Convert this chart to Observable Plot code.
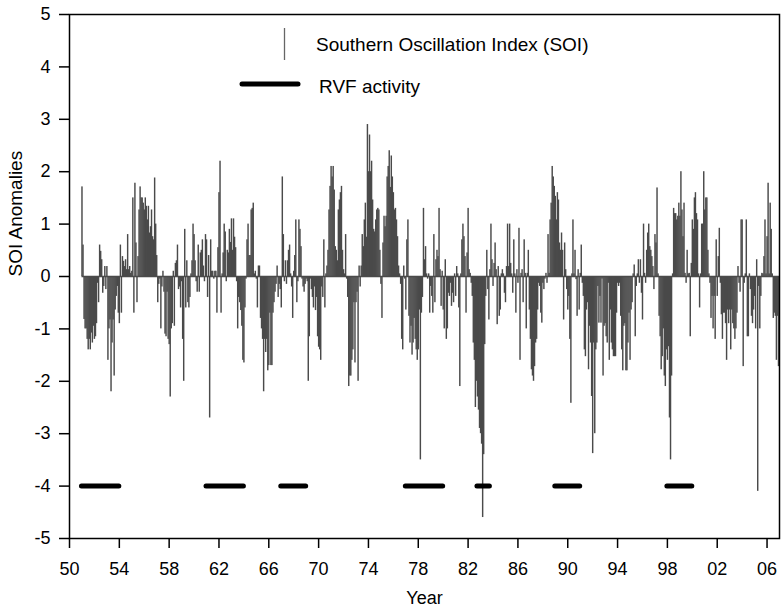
<!DOCTYPE html>
<html>
<head>
<meta charset="utf-8">
<script src="https://cdn.jsdelivr.net/npm/d3@7"></script>
<script src="https://cdn.jsdelivr.net/npm/@observablehq/plot@0.6"></script>
<style>
  body { margin: 0; background: #fff; }
  #chart { width: 782px; height: 614px; }
</style>
</head>
<body>
<div id="chart"></div>
<script>
// Monthly SOI anomalies, first value = January 1951
const firstYear = 1951;
const soiJan1951toNov1956 = [1.71, 0.6, -0.82, -1.0, -1.0, -1.2, -1.4, -1.2, -1.4, -1.08,
  -1.27, -0.95, -1.2, -1.15, -0.9, -0.13, -0.5, 0.6, 0.48, 0.32,
  -0.32, -0.19, 0.19, -0.25, 0.19, -1.6, -1.0, -0.83, -2.2, -1.27,
  -0.83, -1.9, -0.64, -0.38, -0.19, -0.7, -0.9, 0.6, -0.7, 0.38,
  0.29, 0.19, 0.32, 0.13, 0.8, 0.13, 0.19, 0.06, 0.1, 1.5,
  -0.7, 1.78, 0.64, -0.5, 0.38, 1.27, 1.71, 1.5, 1.5, 1.4,
  1.27, 1.5, 1.34, 1.08, 1.34, 0.83, 0.95, 1.27, 0.76, 0.7, 1.88];
const soiDec1956toFeb1964 = [1.0, 0.4, -0.5, -0.15, -0.05, -1.0, -0.2, 0.1, -0.3, -1.1,
  -1.15, -0.3, -1.2, -1.3, -2.3, -1.0, -0.9, 0.1, -0.95, 0.25,
  0.3, 0.6, -0.25, -0.2, -0.6, -0.1, -1.2, -2.0, 0.9, -0.6,
  0.3, -0.5, -0.6, -0.4, 0.05, 0.3, 1.0, 0.8, 0.3, -0.1,
  -0.3, 0.6, -0.3, 0.45, 0.5, 0.7, 0.2, -0.1, 0.8, 0.7,
  -0.4, 0.4, -2.7, 0.7, 0.1, 0.1, -0.05, 0.1, 0.1, -0.7,
  0.55, 1.6, 2.2, -0.7, 0.05, 0.45, 1.0, 0.85, -0.1, 0.5,
  0.45, 0.9, 0.65, 1.1, 0.5, 1.1, 0.75, 0.55, -0.1, -1.0,
  -0.4, -0.5, -0.65, -0.95, -1.6, -1.65, -0.6];
const soiMar1964toMar1971 = [-0.05, 0.7, 1.0, 0.4, 0.4, 1.27, 1.3, 1.4, 0.05, 0.1,
  -0.05, -0.6, 0.2, 0.2, -0.8, -1.0, -1.2, -2.2, -1.2, -1.45,
  -1.2, -1.8, -1.7, -0.7, -1.7, -1.7, -0.7, -0.5, -0.3, -0.15,
  0.2, -0.4, -0.15, -0.25, -0.6, 1.9, 0.8, -0.1, 0.3, -0.15,
  0.3, 0.5, 0.6, 0.05, -0.2, -0.8, 0.1, 0.4, 1.08, -0.5,
  -0.1, 1.08, 0.9, 0.57, -0.05, -0.2, -0.3, -0.15, -0.05, -0.1,
  -2.0, -1.15, -0.05, -0.25, -0.4, -0.6, -0.2, -0.65, -0.4, -1.15,
  -1.35, -1.4, -1.6, -0.2, -0.4, 0.7, -0.6, 0.05, 0.2, 0.5,
  1.27, 1.72, 2.1, 1.9, 2.1];
const soiApr1971toJul1978 = [1.65, 0.57, 0.5, 0.3, 1.27, 1.46, 1.6, 1.72, 0.5, 0.13,
  0.05, 0.8, -0.05, -0.4, -2.1, -1.9, -1.9, -1.6, -1.4, -0.5,
  -1.65, -0.5, -0.3, -2.0, 0.2, -0.2, 0.2, 0.8, 0.57, 1.08,
  1.4, 0.75, 2.9, 2.0, 2.7, 2.0, 2.2, 1.46, 0.9, 0.85,
  1.08, 1.27, 1.3, 1.27, 0.5, -0.15, -0.8, 0.64, 1.15, 0.95,
  1.15, 1.9, 2.1, 2.4, 1.7, 2.3, 1.9, 1.6, 1.27, 1.3,
  1.08, 0.76, 0.2, 0.05, -0.15, -1.2, -1.4, 0.2, -0.05, -0.64,
  0.7, 1.08, -0.76, -1.27, -0.95, -1.5, -1.27, -0.8, -1.2, -1.4,
  -1.6, -1.4, -0.64, -3.5, -0.7, -0.4, 1.3, 0.32];
const soiAug1978toSep1985 = [0.57, 0.05, -0.05, 0.05, -0.7, -0.19, -0.38, -0.7, 0.8, -0.5,
  0.32, 0.5, 0.38, 1.3, 0.13, -0.57, 0.1, -0.64, -1.0, 0.32,
  -1.2, -1.0, -0.32, -0.38, -0.13, -0.57, -0.32, -0.5, 0.05, -0.38,
  0.19, 0.05, -0.6, -2.1, 0.05, 0.7, 1.0, 0.76, 0.38, -0.7,
  0.45, 1.3, 0.13, 0.06, -0.13, -0.38, -1.27, -1.6, -2.5, -2.0,
  -2.3, -2.55, -2.9, -3.0, -3.2, -4.6, -3.4, -1.3, -0.38, 0.5,
  -0.25, -0.83, 0.13, 1.0, 0.32, -0.19, 0.25, 0.64, 0.13, -0.92,
  0.19, -0.76, -0.64, 0.05, 0.13, 0.05, -0.32, -0.5, 0.19, 1.0,
  0.19, 1.0, 0.25, 0.05, -0.32, 0.7];
const soiOct1985toDec1992 = [0.05, -0.7, 0.13, -0.13, 0.92, -1.6, 0.06, 0.13, -0.5, 0.7,
  0.06, -1.0, 0.06, 0.5, -0.64, -1.2, -1.78, -1.9, -2.0, -1.72,
  -1.27, -1.2, -0.64, -0.13, -0.19, -0.7, -0.89, -0.13, -0.25, -0.05,
  0.06, -0.13, 0.8, 0.06, 1.08, 1.4, 2.1, 1.9, 1.72, 1.53,
  1.08, 1.6, 1.46, 0.64, 0.5, 0.83, 0.5, -0.83, 0.64, 0.13,
  -0.25, -0.64, -0.38, -1.2, -2.42, 0.05, 1.08, 0.05, 0.5, -0.06,
  -0.76, 0.13, -0.64, 0.06, 0.6, -0.13, -0.38, -1.4, -1.53, -0.64,
  -0.5, -1.78, -0.95, -1.27, -2.29, -3.38, -1.27, -3.0, -1.4, -1.27,
  -0.19, -0.89, -0.38, -0.89, -0.05, -1.9, -0.95];
const soiJan1993toApr2000 = [-0.9, -1.15, -1.27, -0.13, -1.6, -0.64, -1.27, -1.4, -1.53, -1.53,
  -1.53, -0.7, -0.13, -0.19, -0.13, -0.76, -1.4, -1.8, -0.95, -0.9,
  -1.8, -1.8, -1.27, -0.7, -1.6, -0.64, -0.5, 0.05, 0.22, -1.15,
  -0.19, 0.05, 0.32, -0.13, 0.32, -0.32, -0.83, 1.0, 0.06, -0.13,
  0.5, 0.83, 1.0, 0.57, 0.5, 0.38, 0.19, -0.25, 0.8, 0.64,
  1.69, 0.05, -0.76, -1.15, -1.78, -1.53, -1.0, -1.9, -2.1, -1.4,
  -1.6, -1.34, -2.7, -3.5, -1.9, 0.05, 1.3, 1.2, 1.2, 1.08,
  1.15, 1.4, 1.15, 2.0, 1.27, 0.76, 1.4, 0.06, -0.13, 0.5,
  0.05, 0.06, -1.15, 0.25, 1.08, 0.9, 1.5, 1.6];
const soiMay2000toDec2006 = [1.2, 1.08, 0.05, -0.6, 0.05, 1.0, 1.0, 2.0, 1.27, 1.5,
  1.5, 0.5, 0.05, -0.13, -0.8, -0.38, -1.0, -0.38, -1.2, 0.7,
  -0.38, 0.38, 0.92, -0.13, -0.73, -1.2, -0.7, -0.7, -0.9, -1.6,
  -0.64, -0.9, -0.64, -1.4, -0.64, -0.9, -1.0, -1.2, -1.0, -0.7,
  0.19, -0.13, -0.3, 1.08, 1.08, -1.72, -0.13, 0.05, 1.08, -1.15,
  -1.15, 0.05, -0.25, -0.76, -0.9, -0.64, -0.38, -1.0, 0.32, -4.1,
  -0.19, -1.0, -0.38, 0.06, 0.05, 0.38, 1.08, 0.05, 0.76, 1.78,
  0.05, 1.4, 0.9, 0.05, -0.8, -0.7, -0.76, -1.6, -0.76, -1.72];

// RVF activity periods (decimal years) drawn at level -4
const rvfStart = [1951, 1961, 1967, 1977, 1982.75, 1989, 1998];
const rvfEnd   = [1954, 1964, 1969, 1980, 1983.75, 1991, 2000];
const rvfLevel = -4;

// Axis ticks
const yearTicks = [1950, 1954, 1958, 1962, 1966, 1970, 1974, 1978, 1982, 1986, 1990, 1994, 1998, 2002, 2006];
const yearTickLabels = ["50", "54", "58", "62", "66", "70", "74", "78", "82", "86", "90", "94", "98", "02", "06"];
const yTicks = [-5, -4, -3, -2, -1, 0, 1, 2, 3, 4, 5];
const xDomain = [1950, 2007];

const soi = [].concat(soiJan1951toNov1956, soiDec1956toFeb1964, soiMar1964toMar1971,
  soiApr1971toJul1978, soiAug1978toSep1985, soiOct1985toDec1992, soiJan1993toApr2000, soiMay2000toDec2006);
const soiData = soi.map((v, i) => ({t0: firstYear + i / 12, t1: firstYear + (i + 1) / 12, v}));
const rvfData = rvfStart.map((s, i) => ({start: s, end: rvfEnd[i], level: rvfLevel}));
const soiSpan = [{a: soiData[0].t0, b: soiData[soiData.length - 1].t1}];

const barColor = "#4a4a4a";
const font = "'Liberation Sans', Arial, Helvetica, sans-serif";

const chart = Plot.plot({
  width: 782,
  height: 614,
  marginLeft: 69,
  marginRight: 3,
  marginTop: 14,
  marginBottom: 76,
  style: {fontFamily: font, fontSize: "18px", color: "black", background: "white", overflow: "visible"},
  x: {domain: xDomain, label: null},
  y: {domain: [-5, 5], label: null},
  marks: [
    Plot.rectY(soiData, {x1: "t0", x2: "t1", y: "v", fill: barColor, insetLeft: -0.2, insetRight: -0.2}),
    Plot.ruleY(soiSpan, {x1: "a", x2: "b", y: 0, stroke: barColor, strokeWidth: 1.5}),
    Plot.ruleY(rvfData, {x1: "start", x2: "end", y: "level", stroke: "black", strokeWidth: 5, strokeLinecap: "round"}),
    Plot.frame({stroke: "black", strokeWidth: 1.5}),
    Plot.axisX({ticks: yearTicks, tickFormat: (d) => yearTickLabels[yearTicks.indexOf(d)], tickSize: 10, tickPadding: 14, strokeWidth: 1.5, label: null}),
    Plot.axisY({ticks: yTicks, tickFormat: (d) => String(d), tickSize: 10, tickPadding: 9, strokeWidth: 1.5, label: null}),
    Plot.text(["Year"], {frameAnchor: "bottom", dy: 65, fontSize: 18}),
    Plot.text(["SOI Anomalies"], {frameAnchor: "left", dx: -54, rotate: -90, fontSize: 19})
  ]
});

// Legend inside the plot frame
const svg = d3.select(chart);
const lg = svg.append("g").attr("font-family", font).attr("font-size", 19).attr("fill", "black").attr("text-anchor", "start");
lg.append("line").attr("x1", 284.5).attr("x2", 284.5).attr("y1", 28).attr("y2", 60)
  .attr("stroke", "#666").attr("stroke-width", 1.3);
lg.append("text").attr("x", 316).attr("y", 44).attr("dy", "0.35em").text("Southern Oscillation Index (SOI)");
lg.append("line").attr("x1", 242).attr("x2", 298).attr("y1", 84).attr("y2", 84)
  .attr("stroke", "black").attr("stroke-width", 5).attr("stroke-linecap", "round");
lg.append("text").attr("x", 319).attr("y", 86).attr("dy", "0.35em").text("RVF activity");

document.getElementById("chart").appendChild(chart);
</script>
</body>
</html>
